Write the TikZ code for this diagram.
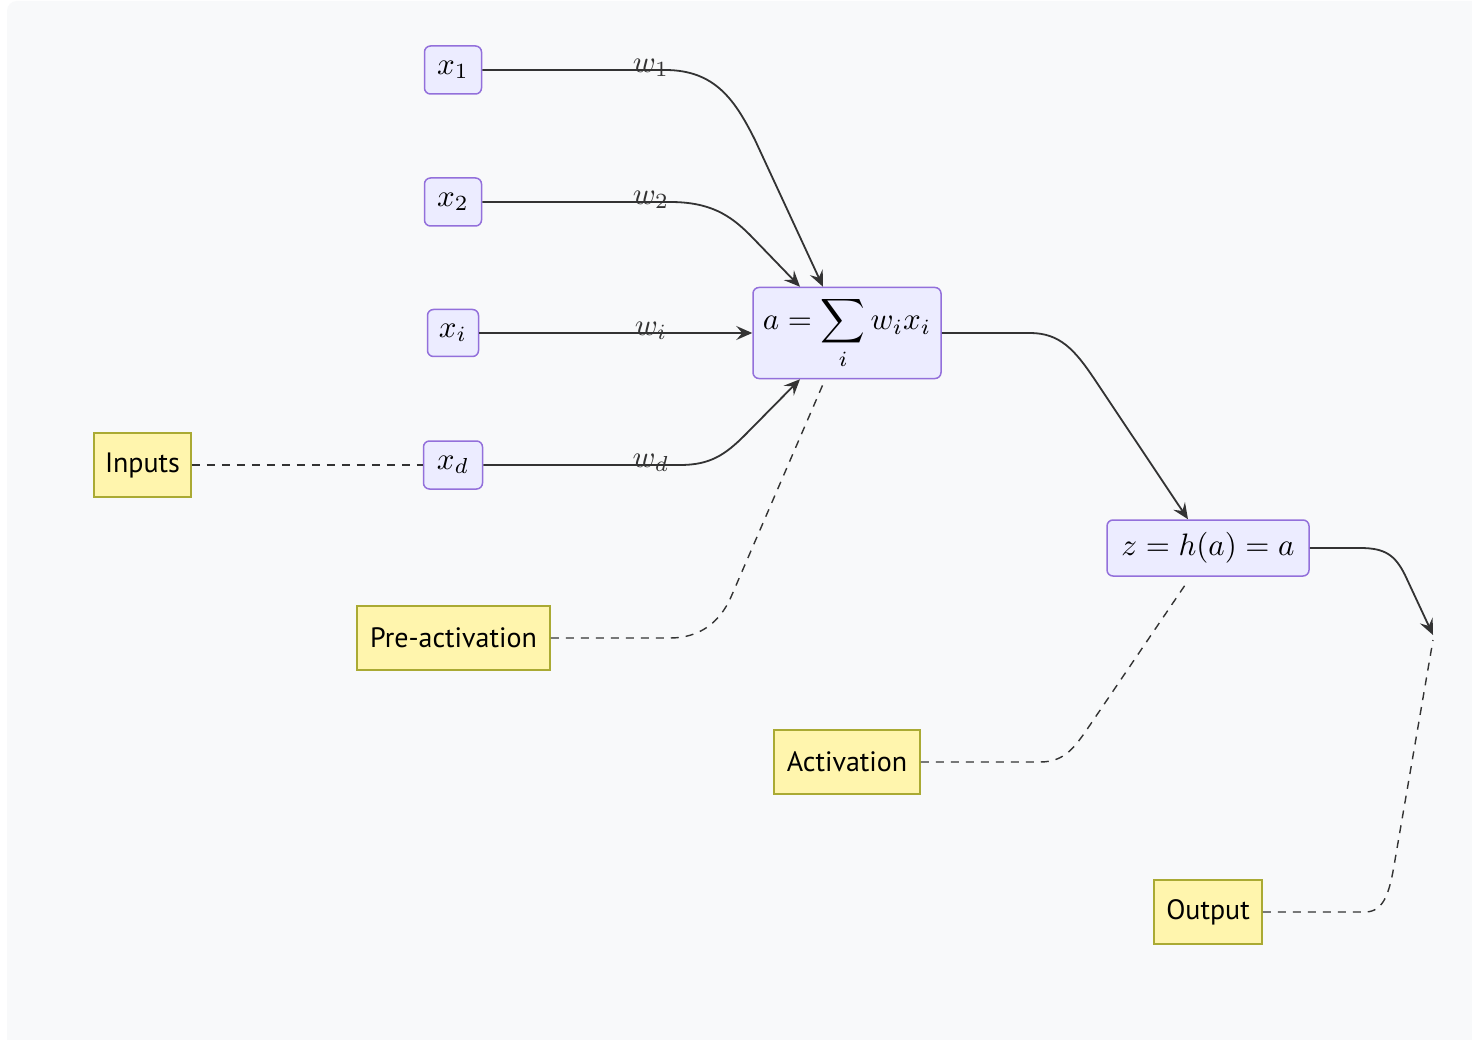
\documentclass[tikz,border=0pt]{standalone}
\usepackage{fontspec}
\setsansfont{PT Sans}
\usetikzlibrary{arrows.meta}
\definecolor{bg}{HTML}{F8F9FA}
\definecolor{nodefill}{HTML}{ECECFF}
\definecolor{nodeline}{HTML}{9370DB}
\definecolor{notefill}{HTML}{FFF5AD}
\definecolor{noteline}{HTML}{AAAA33}
\definecolor{ink}{HTML}{333333}
% math set at 10pt and enlarged, so that every symbol scales alike
\newcommand\mth[1]{\scalebox{3.1}{$#1$}}
\begin{document}
\begin{tikzpicture}[x=1pt,y=-1pt,
  unit/.style={draw=nodeline,fill=nodefill,line width=1.5pt,rounded corners=6pt,
    inner sep=0pt},
  note/.style={draw=noteline,fill=notefill,line width=1.5pt,inner sep=0pt,
    minimum height=64pt,font=\sffamily\fontsize{28}{34}\selectfont},
  edge/.style={draw=ink,line width=1.8pt,-{Stealth[length=16pt,width=14pt,inset=6pt]}},
  link/.style={draw=ink,line width=1.4pt,dash pattern=on 8pt off 7pt},
  wlabel/.style={inner sep=0pt,text=ink}]

% canvas
\useasboundingbox (0,0) rectangle (1472,1040);
\clip (0,0) rectangle (1472,1040);
\fill[white] (0,0) rectangle (1472,1040);
\fill[bg,rounded corners=10pt] (7,1) rectangle (1500,1070);

% input units
\node[unit,minimum width=57pt,minimum height=48pt] (x1) at (453,70) {\mth{x_1}};
\node[unit,minimum width=57pt,minimum height=48pt] (x2) at (453,202) {\mth{x_2}};
\node[unit,minimum width=51pt,minimum height=47pt] (xi) at (453,333) {\mth{x_i}};
\node[unit,minimum width=59pt,minimum height=48pt] (xd) at (453,465) {\mth{x_d}};

% summation and activation units
\node[unit,minimum width=188pt,minimum height=91pt] (sum) at (847,333)
  {\mth{\displaystyle a = \sum_i w_i x_i}};
\node[unit,minimum width=202pt,minimum height=56pt] (act) at (1208,548)
  {\mth{z = h(a) = a}};
\coordinate (out) at (1433,635);

% notes
\node[note,minimum width=97pt] (inputs) at (142.5,465) {Inputs};
\node[note,minimum width=193pt] (pre) at (453.5,638) {Pre-activation};
\node[note,minimum width=146pt] (actnote) at (847,762) {Activation};
\node[note,minimum width=108pt] (outnote) at (1208,912) {Output};

% weighted connections
\draw[edge] (x1.east) -- (665,70) .. controls (715,70) and (735,100) .. (755,140)
  -- ([xshift=-24pt]sum.north);
\draw[edge] (x2.east) -- (670,202) .. controls (710,202) and (730,215) .. (750,235)
  -- ([xshift=-47pt]sum.north);
\draw[edge] (xi.east) -- (sum.west);
\draw[edge] (xd.east) -- (680,465) .. controls (710,465) and (725,455) .. (745,435)
  -- ([xshift=-47pt]sum.south);
\draw[edge] (sum.east) -- (1030,333) .. controls (1060,333) and (1075,350) .. (1095,380)
  -- ([xshift=-20pt]act.north);
\draw[edge] (act.east) -- (1360,548) .. controls (1385,548) and (1395,555) .. (1405,575)
  -- (out);

% weight labels
\node[wlabel] (w1) at (651,68) {\mth{w_1}};
\node[wlabel] (w2) at (651,200) {\mth{w_2}};
\node[wlabel] (wi) at (651,331) {\mth{w_i}};
\node[wlabel] (wd) at (651,463) {\mth{w_d}};

% annotation links
\draw[link] (inputs.east) -- (xd.west);
\draw[link] (pre.east) -- (670,638) .. controls (700,638) and (720,622) .. (731,597)
  -- ([xshift=-24pt,yshift=-5pt]sum.south);
\draw[link] (actnote.east) -- (1040,762) .. controls (1065,762) and (1075,747) .. (1090,725)
  -- ([xshift=-20pt,yshift=-4pt]act.south);
\draw[link] (outnote.east) -- (1365,912) .. controls (1385,912) and (1390,890) .. (1395,860)
  -- ([yshift=-5pt]out);
\end{tikzpicture}
\end{document}
